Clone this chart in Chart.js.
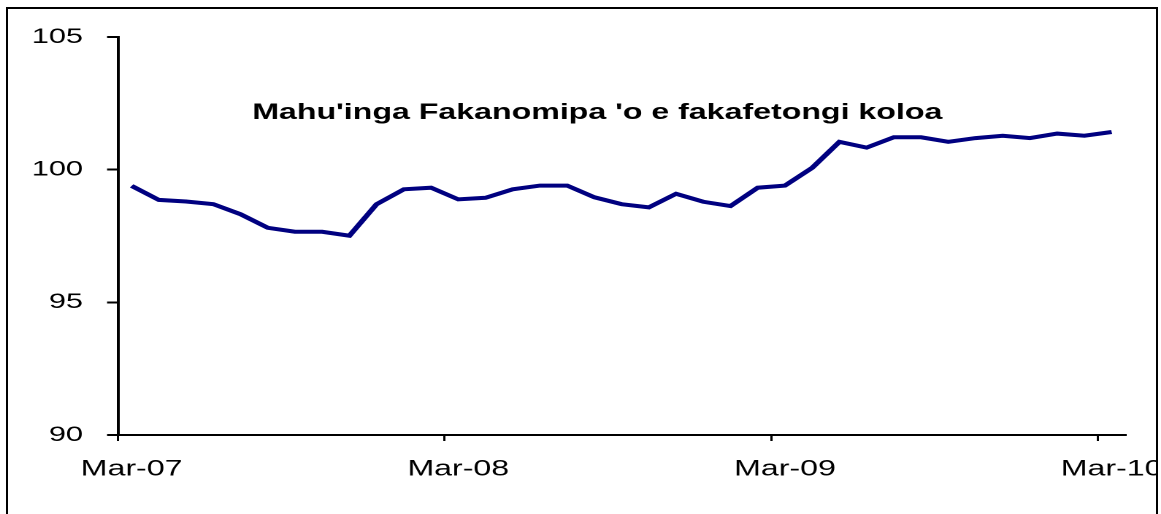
<!DOCTYPE html>
<html>
<head>
<meta charset="utf-8">
<script src="https://cdn.jsdelivr.net/npm/chart.js@4.4.0/dist/chart.umd.min.js"></script>
<style>
    html, body { margin: 0; padding: 0; background: #fff; overflow: hidden; }
    #clip {
        position: absolute; left: 0; top: 0;
        width: 1157px; height: 514px; overflow: hidden;
    }
    #wrap {
        position: absolute; left: 0; top: 0;
        width: 795px; height: 514px;
        transform: scaleX(1.4604); transform-origin: 0 0;
    }
    #frame {
        position: absolute; left: 6px; top: 7px;
        width: 1148px; height: 540px;
        border: 2px solid #000;
    }
</style>
</head>
<body>
<div id="clip"><div id="wrap"><canvas id="chart"></canvas></div></div>
<div id="frame"></div>
<script>

// =========================
// DATA
// =========================

const months = [
    "Mar-07", "Apr-07", "May-07", "Jun-07", "Jul-07", "Aug-07", "Sep-07",
    "Oct-07", "Nov-07", "Dec-07", "Jan-08", "Feb-08",
    "Mar-08", "Apr-08", "May-08", "Jun-08", "Jul-08", "Aug-08", "Sep-08",
    "Oct-08", "Nov-08", "Dec-08", "Jan-09", "Feb-09",
    "Mar-09", "Apr-09", "May-09", "Jun-09", "Jul-09", "Aug-09", "Sep-09",
    "Oct-09", "Nov-09", "Dec-09", "Jan-10", "Feb-10",
    "Mar-10"
];

const indexValues = [
    99.39, 98.86, 98.80, 98.70, 98.32, 97.81, 97.66, 97.66, 97.51, 98.70,
    99.26, 99.32, 98.88, 98.94, 99.26, 99.40, 99.40, 98.96, 98.70, 98.58,
    99.09, 98.79, 98.63, 99.32, 99.40, 100.07, 101.05, 100.83, 101.22, 101.22,
    101.05, 101.19, 101.28, 101.19, 101.36, 101.28, 101.42
];

const yMin = 90;
const yMax = 105;
const yStep = 5;

const chartTitle = "Mahu'inga Fakanomipa 'o e fakafetongi koloa";

// =========================
// TITLE INSIDE PLOT
// =========================

const titlePlugin = {
    id: "innerTitle",
    afterDraw(chart) {
        const ctx = chart.ctx;
        ctx.save();
        ctx.font = "bold 22px 'Liberation Sans', Arial, sans-serif";
        ctx.fillStyle = "#000";
        ctx.textAlign = "center";
        ctx.textBaseline = "alphabetic";
        ctx.fillText(chartTitle, 409, 119);
        ctx.restore();
    }
};

// =========================
// LINE CHART
// =========================

const ctx = document.getElementById("chart").getContext("2d");

new Chart(ctx, {
    type: "line",
    data: {
        labels: months,
        datasets: [{
            data: indexValues,
            borderColor: "#000080",
            borderWidth: 4,
            pointRadius: 0,
            tension: 0,
            fill: false
        }]
    },
    options: {
        responsive: true,
        maintainAspectRatio: false,
        animation: false,
        devicePixelRatio: 2,
        layout: {
            padding: { left: 0, right: 24.5, top: 37, bottom: 29 }
        },
        plugins: {
            legend: { display: false },
            tooltip: { enabled: false }
        },
        scales: {
            x: {
                type: "category",
                offset: true,
                grid: {
                    offset: true,
                    drawOnChartArea: false,
                    tickLength: 6,
                    lineWidth: 1.5,
                    color: c => (c.index % 12 === 0 ? "#000" : "rgba(0,0,0,0)")
                },
                border: { color: "#000", width: 2 },
                ticks: {
                    autoSkip: false,
                    maxRotation: 0,
                    padding: 15,
                    color: "#000",
                    font: { family: "'Liberation Sans', Arial, sans-serif", size: 22 },
                    callback: (v, i) => (i % 12 === 0 ? months[i] : "")
                },
                afterFit(scale) {
                    scale.height = 50;
                    scale.paddingLeft = 0;
                    scale.paddingRight = 0;
                }
            },
            y: {
                min: yMin,
                max: yMax,
                grid: {
                    drawOnChartArea: false,
                    tickLength: 7.5,
                    lineWidth: 2,
                    color: "#000"
                },
                border: { color: "#000", width: 2 },
                ticks: {
                    stepSize: yStep,
                    padding: 16.5,
                    color: "#000",
                    font: { family: "'Liberation Sans', Arial, sans-serif", size: 21 }
                },
                afterFit(scale) {
                    scale.width = 80.8;
                }
            }
        }
    },
    plugins: [titlePlugin]
});

</script>
</body>
</html>
